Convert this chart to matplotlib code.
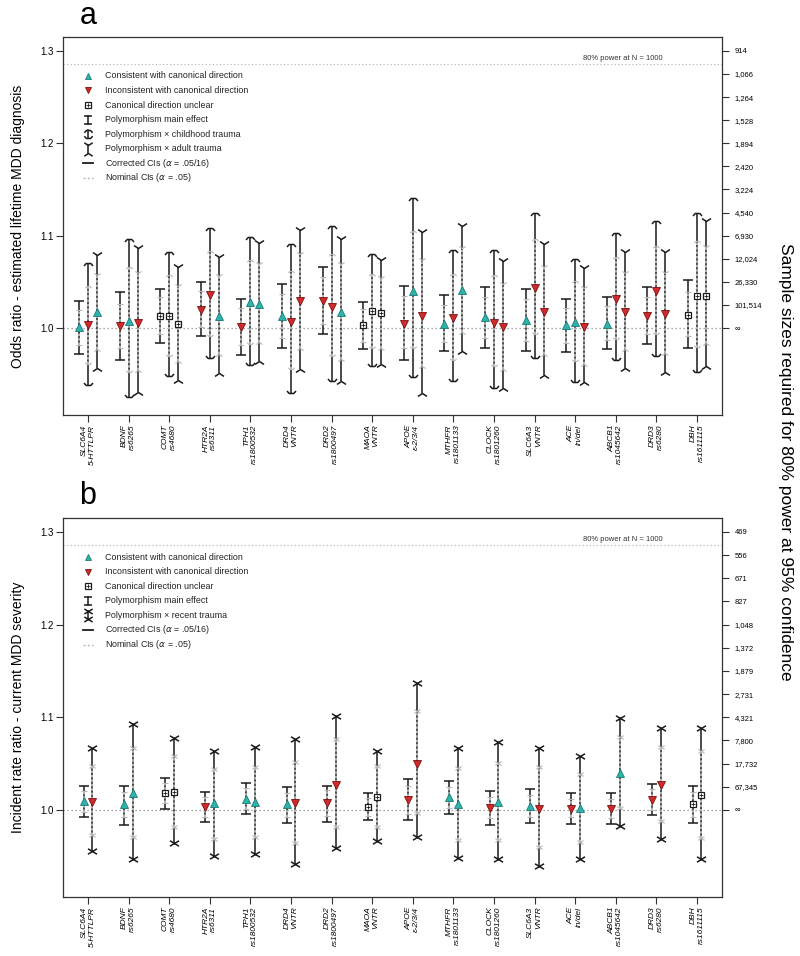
import numpy as np
import matplotlib
matplotlib.use('Agg')
import matplotlib.pyplot as plt
from matplotlib.path import Path

plt.rcParams['font.family'] = ['Liberation Sans', 'DejaVu Sans']

# categories
genes = ['SLC6A4', 'BDNF', 'COMT', 'HTR2A', 'TPH1', 'DRD4', 'DRD2', 'MAOA',
         'APOE', 'MTHFR', 'CLOCK', 'SLC6A3', 'ACE', 'ABCB1', 'DRD3', 'DBH']
variants = ['5-HTTLPR', 'rs6265', 'rs4680', 'rs6311', 'rs1800532', 'VNTR', 'rs1800497', 'VNTR',
            'ε-2/3/4', 'rs1801133', 'rs1801260', 'VNTR', 'in/del', 'rs1045642', 'rs6280', 'rs1611115']

# panel a - odds ratios, lifetime MDD diagnosis
# direction codes: c = consistent, i = inconsistent, u = unclear
a_main_est = [1.001, 1.002, 1.013, 1.020, 1.001, 1.013, 1.029, 1.003, 1.005, 1.005, 1.012, 1.009, 1.003, 1.005, 1.013, 1.014]
a_main_nlo = [0.982, 0.978, 0.994, 1.001, 0.982, 0.989, 1.004, 0.985, 0.978, 0.985, 0.989, 0.986, 0.984, 0.987, 0.994, 0.991]
a_main_nhi = [1.020, 1.026, 1.034, 1.040, 1.022, 1.037, 1.055, 1.021, 1.035, 1.025, 1.034, 1.031, 1.022, 1.024, 1.034, 1.039]
a_main_clo = [0.972, 0.965, 0.984, 0.991, 0.971, 0.978, 0.994, 0.977, 0.965, 0.975, 0.978, 0.975, 0.974, 0.977, 0.983, 0.979]
a_main_chi = [1.029, 1.039, 1.042, 1.050, 1.031, 1.048, 1.066, 1.028, 1.046, 1.036, 1.044, 1.042, 1.032, 1.034, 1.044, 1.052]
a_main_dir = ['c', 'i', 'u', 'i', 'i', 'c', 'i', 'u', 'i', 'c', 'c', 'c', 'c', 'c', 'i', 'u']

a_child_est = [1.003, 1.008, 1.013, 1.036, 1.028, 1.007, 1.023, 1.018, 1.040, 1.011, 1.006, 1.043, 1.007, 1.031, 1.040, 1.035]
a_child_nlo = [0.961, 0.953, 0.970, 0.992, 0.983, 0.956, 0.970, 0.979, 0.978, 0.966, 0.959, 0.994, 0.964, 0.988, 0.994, 0.980]
a_child_nhi = [1.046, 1.066, 1.057, 1.083, 1.074, 1.062, 1.080, 1.059, 1.105, 1.059, 1.057, 1.096, 1.051, 1.077, 1.089, 1.094]
a_child_clo = [0.939, 0.925, 0.948, 0.968, 0.960, 0.930, 0.943, 0.959, 0.947, 0.943, 0.935, 0.968, 0.942, 0.965, 0.970, 0.953]
a_child_chi = [1.070, 1.096, 1.082, 1.108, 1.099, 1.091, 1.111, 1.080, 1.141, 1.085, 1.085, 1.125, 1.075, 1.103, 1.116, 1.125]
a_child_dir = ['i', 'c', 'u', 'i', 'c', 'i', 'i', 'u', 'c', 'i', 'i', 'i', 'c', 'i', 'i', 'u']

a_adult_est = [1.017, 1.006, 1.004, 1.013, 1.026, 1.029, 1.017, 1.016, 1.013, 1.041, 1.001, 1.017, 1.001, 1.017, 1.015, 1.035]
a_adult_nlo = [0.977, 0.955, 0.964, 0.972, 0.985, 0.979, 0.967, 0.979, 0.959, 0.996, 0.956, 0.972, 0.961, 0.977, 0.973, 0.984]
a_adult_nhi = [1.058, 1.060, 1.046, 1.056, 1.069, 1.080, 1.069, 1.054, 1.074, 1.087, 1.048, 1.066, 1.043, 1.060, 1.060, 1.088]
a_adult_clo = [0.957, 0.931, 0.944, 0.951, 0.964, 0.956, 0.943, 0.961, 0.930, 0.975, 0.935, 0.949, 0.942, 0.957, 0.952, 0.959]
a_adult_chi = [1.079, 1.087, 1.066, 1.077, 1.092, 1.106, 1.096, 1.074, 1.104, 1.110, 1.073, 1.091, 1.065, 1.082, 1.082, 1.116]
a_adult_dir = ['c', 'i', 'u', 'c', 'c', 'i', 'c', 'u', 'i', 'c', 'i', 'i', 'i', 'i', 'i', 'u']

# panel b - incident rate ratios, current MDD severity
b_main_est = [1.010, 1.006, 1.018, 1.003, 1.012, 1.006, 1.007, 1.003, 1.011, 1.014, 1.002, 1.004, 1.001, 1.001, 1.011, 1.006]
b_main_nlo = [0.998, 0.992, 1.007, 0.992, 1.001, 0.992, 0.993, 0.993, 0.996, 1.002, 0.991, 0.992, 0.992, 0.991, 1.000, 0.992]
b_main_nhi = [1.020, 1.019, 1.029, 1.014, 1.024, 1.018, 1.021, 1.013, 1.026, 1.025, 1.014, 1.016, 1.012, 1.012, 1.023, 1.019]
b_main_clo = [0.992, 0.984, 1.001, 0.987, 0.996, 0.986, 0.987, 0.989, 0.989, 0.996, 0.984, 0.986, 0.985, 0.985, 0.994, 0.986]
b_main_chi = [1.026, 1.026, 1.034, 1.019, 1.029, 1.025, 1.026, 1.018, 1.033, 1.031, 1.020, 1.023, 1.018, 1.018, 1.028, 1.026]
b_main_dir = ['c', 'c', 'u', 'i', 'c', 'c', 'i', 'u', 'i', 'c', 'i', 'c', 'i', 'i', 'i', 'u']

b_recent_est = [1.009, 1.018, 1.019, 1.007, 1.009, 1.007, 1.027, 1.014, 1.050, 1.006, 1.008, 1.001, 1.002, 1.040, 1.027, 1.016]
b_recent_nlo = [0.973, 0.971, 0.982, 0.969, 0.971, 0.964, 0.982, 0.982, 0.997, 0.967, 0.967, 0.960, 0.965, 1.002, 0.988, 0.970]
b_recent_nhi = [1.047, 1.067, 1.058, 1.044, 1.046, 1.052, 1.076, 1.047, 1.107, 1.045, 1.051, 1.046, 1.039, 1.079, 1.068, 1.064]
b_recent_clo = [0.956, 0.947, 0.964, 0.950, 0.952, 0.942, 0.959, 0.966, 0.971, 0.948, 0.947, 0.939, 0.947, 0.983, 0.969, 0.947]
b_recent_chi = [1.067, 1.093, 1.078, 1.064, 1.068, 1.076, 1.101, 1.064, 1.137, 1.067, 1.073, 1.067, 1.058, 1.099, 1.088, 1.088]
b_recent_dir = ['i', 'c', 'u', 'c', 'c', 'i', 'i', 'u', 'i', 'c', 'c', 'i', 'c', 'c', 'i', 'u']

# right axis: sample sizes for 80% power
a_sample_sizes = ['914', '1,066', '1,264', '1,528', '1,894', '2,420', '3,224', '4,540',
                  '6,930', '12,024', '26,330', '101,514', '∞']
b_sample_sizes = ['469', '556', '671', '827', '1,048', '1,372', '1,879', '2,731',
                  '4,321', '7,800', '17,732', '67,345', '∞']
left_ticks = [1.0, 1.1, 1.2, 1.3]
power_n1000 = 1.286

teal, teal_edge = '#2db3ab', '#1a7a75'
red, red_edge = '#d12a2a', '#7a0f0f'
dark, grey = '#1a1a1a', '#b8b8b8'

MOVE, LINE = Path.MOVETO, Path.LINETO
cap_flat = Path([(-1, 0), (1, 0)], [MOVE, LINE])
arch_top = Path([(-1, -0.55), (-0.5, 0), (0.5, 0), (1, -0.55)])
arch_bot = Path([(-1, 0.55), (-0.5, 0), (0.5, 0), (1, 0.55)])
flare_top = Path([(-1, 0.65), (0, 0), (1, 0.65)])
flare_bot = Path([(-1, -0.65), (0, 0), (1, -0.65)])
cross = Path([(-1, -0.6), (1, 0.6), (-1, 0.6), (1, -0.6)], [MOVE, LINE, MOVE, LINE])


def draw_points(ax, xs, est, dirs, transform=None, clip=True, scale=1.0):
    kw = dict(ls='none', zorder=6, clip_on=clip)
    if transform is not None:
        kw['transform'] = transform
    xs, est, dirs = np.asarray(xs), np.asarray(est), np.asarray(dirs)
    m = dirs == 'c'
    ax.plot(xs[m], est[m], marker='^', ms=5.5 * scale, mfc=teal, mec=teal_edge, mew=0.6, **kw)
    m = dirs == 'i'
    ax.plot(xs[m], est[m], marker='v', ms=5.5 * scale, mfc=red, mec=red_edge, mew=0.6, **kw)
    m = dirs == 'u'
    ax.plot(xs[m], est[m], marker='s', ms=4.6 * scale, mfc='white', mec=dark, mew=0.9, **kw)
    ax.plot(xs[m], est[m], marker='+', ms=3.0 * scale, mec=dark, mew=0.6, **kw)


def draw_effect(ax, xs, est, nlo, nhi, clo, chi, dirs, cap_top, cap_bot):
    for x, a, b, c, d in zip(xs, nlo, nhi, clo, chi):
        ax.plot([x, x], [c, d], color=dark, lw=1.1, zorder=2, solid_capstyle='butt')
        ax.plot([x, x], [a, b], color='#cfcfcf', lw=1.1, dashes=(1.6, 1.3), zorder=3)
    ax.plot(xs, chi, ls='none', marker=cap_top, ms=6.5, mew=1.1, mec=dark, mfc='none', zorder=4)
    ax.plot(xs, clo, ls='none', marker=cap_bot, ms=6.5, mew=1.1, mec=dark, mfc='none', zorder=4)
    ax.plot(xs, nhi, ls='none', marker=cap_top, ms=4.5, mew=0.8, mec=grey, mfc='none', zorder=4)
    ax.plot(xs, nlo, ls='none', marker=cap_bot, ms=4.5, mew=0.8, mec=grey, mfc='none', zorder=4)
    draw_points(ax, xs, est, dirs)


def draw_legend(ax, bar_items):
    tr = ax.transAxes
    x0, xt, y0, dy = 0.038, 0.064, 0.897, 0.0385
    h = 0.0105
    rows = ['Consistent with canonical direction',
            'Inconsistent with canonical direction',
            'Canonical direction unclear']
    draw_points(ax, [x0, x0, x0], [y0, y0 - dy, y0 - 2 * dy], ['c', 'i', 'u'],
                transform=tr, clip=False, scale=0.9)
    for k, (label, ctop, cbot) in enumerate(bar_items):
        y = y0 - (3 + k) * dy
        ax.plot([x0, x0], [y - h, y + h], color=dark, lw=1.1, transform=tr, clip_on=False)
        ax.plot([x0], [y + h], marker=ctop, ms=6, mew=1.1, mec=dark, mfc='none',
                transform=tr, clip_on=False)
        ax.plot([x0], [y - h], marker=cbot, ms=6, mew=1.1, mec=dark, mfc='none',
                transform=tr, clip_on=False)
        rows.append(label)
    n = len(rows)
    y = y0 - n * dy
    ax.plot([x0 - 0.008, x0 + 0.008], [y, y], color=dark, lw=1.3, transform=tr, clip_on=False)
    rows.append(r'Corrected CIs ($\alpha$ = .05/16)')
    y = y0 - (n + 1) * dy
    ax.plot([x0 - 0.008, x0 + 0.008], [y, y], color=grey, lw=1.0, dashes=(1.5, 1.5),
            transform=tr, clip_on=False)
    rows.append(r'Nominal CIs ($\alpha$ = .05)')
    for k, label in enumerate(rows):
        ax.text(xt, y0 - k * dy, label, transform=tr, fontsize=6.4, va='center', ha='left',
                color='#222222')


def setup_axes(ax, ylabel, sizes):
    x = np.arange(1, len(genes) + 1)
    ax.set_xlim(0.385, len(genes) + 0.615)
    ax.set_ylim(0.906, 1.315)
    ax.axhline(1.0, color='#8c8c8c', lw=0.9, ls=(0, (1, 2.2)), zorder=1)
    ax.axhline(power_n1000, color='#b0b0b0', lw=0.8, ls=(0, (1, 2.2)), zorder=1)
    ax.annotate('80% power at N = 1000', xy=(0.9105, power_n1000),
                xycoords=('axes fraction', 'data'), xytext=(0, 1.5), textcoords='offset points',
                ha='right', va='bottom', fontsize=5.5, color='#333333')
    ax.set_xticks(x)
    ax.set_xticklabels([g + '\n' + v for g, v in zip(genes, variants)], rotation=90,
                       fontstyle='italic', fontsize=6, va='top', ha='center',
                       multialignment='right')
    ax.set_yticks(left_ticks)
    ax.set_yticklabels(['%.1f' % t for t in left_ticks])
    ax.tick_params(direction='out', length=5, width=0.8, color='#333333', labelsize=7, pad=2)
    ax.tick_params(axis='x', labelsize=6)
    ax.set_ylabel(ylabel, fontsize=10)
    ax.yaxis.set_label_coords(-0.058, 0.5)
    for s in ax.spines.values():
        s.set_linewidth(0.9)
        s.set_color('#333333')
    ax2 = ax.twinx()
    ax2.set_ylim(ax.get_ylim())
    ticks = left_ticks[-1] - 0.025 * np.arange(len(sizes))
    ax2.set_yticks(ticks)
    ax2.set_yticklabels(sizes)
    ax2.tick_params(direction='out', length=5, width=0.8, color='#333333', labelsize=5.5, pad=4)
    for s in ax2.spines.values():
        s.set_visible(False)
    return x


fig = plt.figure(figsize=(8, 9.56), dpi=100)
ax_a = fig.add_axes([63 / 800, 1 - 415 / 956, 659 / 800, 378 / 956])
ax_b = fig.add_axes([63 / 800, 1 - 897 / 956, 659 / 800, 379 / 956])

x = setup_axes(ax_a, 'Odds ratio - estimated lifetime MDD diagnosis', a_sample_sizes)
draw_effect(ax_a, x - 0.22, a_main_est, a_main_nlo, a_main_nhi, a_main_clo, a_main_chi, a_main_dir,
            cap_flat, cap_flat)
draw_effect(ax_a, x, a_child_est, a_child_nlo, a_child_nhi, a_child_clo, a_child_chi, a_child_dir,
            arch_top, arch_bot)
draw_effect(ax_a, x + 0.22, a_adult_est, a_adult_nlo, a_adult_nhi, a_adult_clo, a_adult_chi, a_adult_dir,
            flare_top, flare_bot)
draw_legend(ax_a, [('Polymorphism main effect', cap_flat, cap_flat),
                   ('Polymorphism × childhood trauma', arch_top, arch_bot),
                   ('Polymorphism × adult trauma', flare_top, flare_bot)])

x = setup_axes(ax_b, 'Incident rate ratio - current MDD severity', b_sample_sizes)
draw_effect(ax_b, x - 0.11, b_main_est, b_main_nlo, b_main_nhi, b_main_clo, b_main_chi, b_main_dir,
            cap_flat, cap_flat)
draw_effect(ax_b, x + 0.11, b_recent_est, b_recent_nlo, b_recent_nhi, b_recent_clo, b_recent_chi,
            b_recent_dir, cross, cross)
draw_legend(ax_b, [('Polymorphism main effect', cap_flat, cap_flat),
                   ('Polymorphism × recent trauma', cross, cross)])

fig.text(88 / 800, 1 - 16 / 956, 'a', fontsize=22, ha='center', va='center')
fig.text(88 / 800, 1 - 496 / 956, 'b', fontsize=22, ha='center', va='center')
fig.text(785 / 800, 1 - 462 / 956, 'Sample sizes required for 80% power at 95% confidence',
         rotation=-90, fontsize=12.5, ha='center', va='center')

fig.savefig('out.png', dpi=100, facecolor='white')
